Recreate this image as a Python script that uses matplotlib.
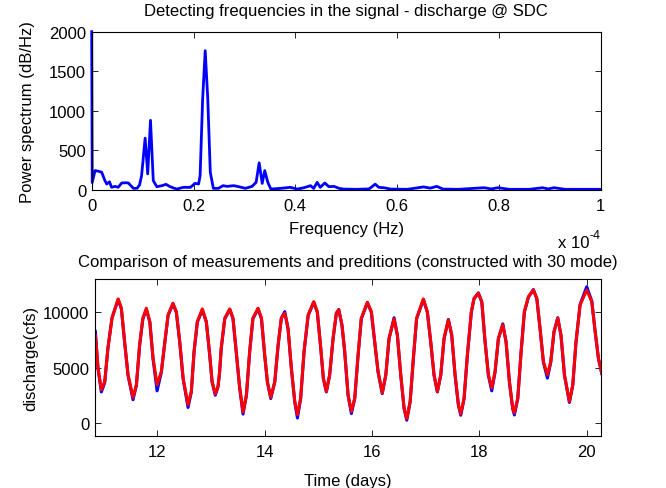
import matplotlib
matplotlib.use("Agg")
import matplotlib.pyplot as plt

plt.rcParams['font.family'] = ['Liberation Sans', 'DejaVu Sans']

# ---- Top panel: power spectrum (frequency in units of 1e-4 Hz) ----
freq_e4 = [0, 0.001, 0.0066, 0.012, 0.016, 0.0197, 0.026, 0.0295, 0.035, 0.039,
           0.046, 0.052, 0.059, 0.066, 0.072, 0.082, 0.089, 0.094, 0.098, 0.105,
           0.110, 0.1155, 0.121, 0.128, 0.138, 0.146, 0.154, 0.167, 0.180, 0.194,
           0.203, 0.210, 0.213, 0.218, 0.223, 0.228, 0.233, 0.239, 0.249, 0.258,
           0.266, 0.279, 0.289, 0.302, 0.315, 0.323, 0.329, 0.335, 0.340, 0.346,
           0.352, 0.371, 0.390, 0.404, 0.417, 0.430, 0.436, 0.443, 0.449, 0.458,
           0.466, 0.476, 0.486, 0.495, 0.520, 0.545, 0.557, 0.564, 0.574, 0.587,
           0.620, 0.652, 0.665, 0.678, 0.690, 0.720, 0.771, 0.785, 0.798, 0.820,
           0.860, 0.886, 0.897, 0.908, 0.930, 0.960, 1.000]
power = [2000, 90, 242, 235, 229, 220, 114, 72, 100, 30,
         42, 30, 85, 88, 85, 17, 17, 60, 178, 653,
         200, 878, 114, 38, 51, 68, 38, 8, 30, 30,
         80, 72, 178, 1153, 1760, 1153, 220, 17, 17, 51,
         42, 51, 38, 17, 42, 93, 340, 80, 242, 93,
         8, 17, 30, 8, 25, 51, 17, 93, 30, 85,
         38, 42, 17, 8, 5, 10, 70, 30, 25, 8,
         5, 35, 20, 42, 8, 5, 25, 10, 25, 5,
         5, 25, 10, 25, 5, 5, 5]
freq_ticks = [0, 0.2, 0.4, 0.6, 0.8, 1.0]
freq_ticklabels = ['0', '0.2', '0.4', '0.6', '0.8', '1']
power_ticks = [0, 500, 1000, 1500, 2000]

# ---- Bottom panel: measured vs predicted discharge ----
time_days = [10.833, 10.845, 10.895, 10.957, 11.02, 11.08, 11.156, 11.27, 11.33, 11.39,
             11.454, 11.547, 11.61, 11.67, 11.73, 11.795, 11.86, 11.92, 11.995, 12.075,
             12.14, 12.2, 12.29, 12.354, 12.417, 12.48, 12.572, 12.633, 12.684, 12.745,
             12.838, 12.913, 12.976, 13.02, 13.08, 13.13, 13.16, 13.19, 13.256, 13.35,
             13.41, 13.47, 13.535, 13.597, 13.66, 13.72, 13.78, 13.876, 13.94, 14.0,
             14.05, 14.113, 14.188, 14.25, 14.31, 14.374, 14.435, 14.497, 14.56, 14.61,
             14.67, 14.733, 14.81, 14.914, 14.98, 15.045, 15.093, 15.149, 15.21, 15.274,
             15.335, 15.38, 15.44, 15.49, 15.553, 15.615, 15.678, 15.74, 15.8, 15.913,
             15.987, 16.05, 16.112, 16.19, 16.256, 16.317, 16.41, 16.472, 16.535, 16.597,
             16.647, 16.71, 16.77, 16.83, 16.956, 17.03, 17.093, 17.155, 17.217, 17.28,
             17.342, 17.422, 17.485, 17.547, 17.609, 17.653, 17.715, 17.776, 17.85, 17.9,
             17.98, 18.045, 18.106, 18.168, 18.23, 18.292, 18.354, 18.436, 18.497, 18.559,
             18.62, 18.652, 18.715, 18.777, 18.838, 18.913, 19.006, 19.07, 19.13, 19.192,
             19.267, 19.33, 19.39, 19.46, 19.52, 19.585, 19.677, 19.74, 19.8, 19.876,
             20.0, 20.094, 20.156, 20.218, 20.28]
predicted_cfs = [8000, 7955, 4955, 3000, 3750, 6757, 9460, 11198, 10360, 7350,
                 4350, 2306, 3450, 7054, 9460, 10360, 9153, 5856, 3450, 4649,
                 7350, 9757, 10811, 10054, 7350, 4054, 1649, 2847, 6450, 9153,
                 10297, 9153, 6153, 3750, 2613, 3300, 4600, 6757, 9460, 10297,
                 9460, 6450, 3153, 991, 2550, 6450, 9460, 10360, 9460, 6153,
                 3750, 2306, 3750, 7054, 9460, 9910, 8559, 4955, 1946, 748,
                 2252, 6450, 9757, 10955, 10054, 6757, 4054, 2847, 4350, 7657,
                 9910, 10207, 8856, 6500, 2550, 1045, 2252, 6153, 9460, 10901,
                 10054, 7350, 4649, 2703, 4350, 7657, 9397, 7955, 4350, 1351,
                 387, 1946, 5856, 9460, 11198, 10054, 7350, 4350, 2847, 4350,
                 7657, 9307, 7955, 4350, 1649, 811, 2252, 6153, 10054, 11261,
                 11712, 10955, 7350, 4350, 3153, 4649, 7657, 8856, 7350, 3750,
                 1351, 901, 2252, 6450, 10054, 11405, 12009, 11261, 8559, 5550,
                 4350, 5550, 8258, 9460, 7955, 4350, 1946, 3450, 7350, 10657,
                 12009, 10955, 8258, 5856, 4505]
measured_cfs = [8400, 8300, 4900, 2800, 3650, 6800, 9500, 11150, 10300, 7300,
                4300, 2100, 3400, 7000, 9400, 10250, 9100, 5800, 2900, 4600,
                7300, 9700, 10750, 10000, 7300, 4000, 1400, 2800, 6400, 9100,
                10200, 9100, 6100, 3700, 2500, 3250, 4550, 6700, 9400, 10250,
                9400, 6400, 3100, 800, 2500, 6400, 9400, 10300, 9400, 6100,
                3700, 2200, 3700, 7000, 9450, 10050, 8500, 4900, 1900, 450,
                2200, 6400, 9700, 10900, 10000, 6700, 4000, 2800, 4300, 7600,
                9900, 10250, 8800, 6450, 2500, 850, 2200, 6100, 9400, 10850,
                10000, 7300, 4600, 2650, 4300, 7600, 9500, 7900, 4300, 1300,
                250, 1900, 5800, 9400, 11150, 10000, 7300, 4300, 2800, 4300,
                7600, 9350, 7900, 4300, 1600, 700, 2200, 6100, 10000, 11200,
                11750, 10900, 7300, 4300, 2900, 4600, 7600, 8950, 7300, 3700,
                1300, 720, 2200, 6400, 10000, 11350, 12050, 11200, 8500, 5500,
                4050, 5500, 8200, 9500, 7900, 4300, 1850, 3400, 7300, 10700,
                12300, 11000, 8300, 5800, 4450]
time_ticks = [12, 14, 16, 18, 20]
cfs_ticks = [0, 5000, 10000]

W, H = 666, 489
fig = plt.figure(figsize=(W / 100, H / 100), dpi=100)
fs = 12

def style(ax):
    ax.tick_params(direction='in', top=True, right=True, length=4, width=0.6,
                   labelsize=fs, colors='black')
    ax.tick_params(axis='x', pad=6)
    ax.tick_params(axis='y', pad=4)
    for s in ax.spines.values():
        s.set_linewidth(0.8)

# top
ax1 = fig.add_axes([91.7 / W, 1 - 190.7 / H, (600.7 - 91.7) / W, (190.7 - 32.7) / H])
ax1.plot(freq_e4, power, color='#0000ff', lw=2.0, solid_joinstyle='round', clip_on=False)
ax1.set_xlim(0, 1)
ax1.set_ylim(0, 2000)
ax1.set_xticks(freq_ticks)
ax1.set_xticklabels(freq_ticklabels)
ax1.set_yticks(power_ticks)
style(ax1)
ax1.set_title('Detecting frequencies in the signal - discharge @ SDC', fontsize=fs, pad=12)
ax1.set_xlabel('Frequency (Hz)', fontsize=fs, labelpad=6)
ax1.set_ylabel('Power spectrum (dB/Hz)', fontsize=fs, labelpad=10)
fig.text(589 / W, 1 - 248 / H, 'x 10', fontsize=fs, ha='right', va='baseline')
fig.text(590 / W, 1 - 239 / H, '-4', fontsize=9, ha='left', va='baseline')

# bottom
ax2 = fig.add_axes([94.7 / W, 1 - 436.7 / H, (600.7 - 94.7) / W, (436.7 - 280) / H])
ax2.plot(time_days, measured_cfs, color='#0000ff', lw=2.2, solid_joinstyle='round')
ax2.plot(time_days, predicted_cfs, color='#ff0000', lw=2.2, solid_joinstyle='round')
ax2.set_xlim(10.833, 20.26)
ax2.set_ylim(-1150, 13000)
ax2.set_xticks(time_ticks)
ax2.set_yticks(cfs_ticks)
style(ax2)
ax2.set_title('Comparison of measurements and preditions (constructed with 30 mode)',
              fontsize=fs, pad=9)
ax2.set_xlabel('Time (days)', fontsize=fs, labelpad=10)
ax2.set_ylabel('discharge(cfs)', fontsize=fs, labelpad=3)

fig.savefig('out.png', dpi=100)
